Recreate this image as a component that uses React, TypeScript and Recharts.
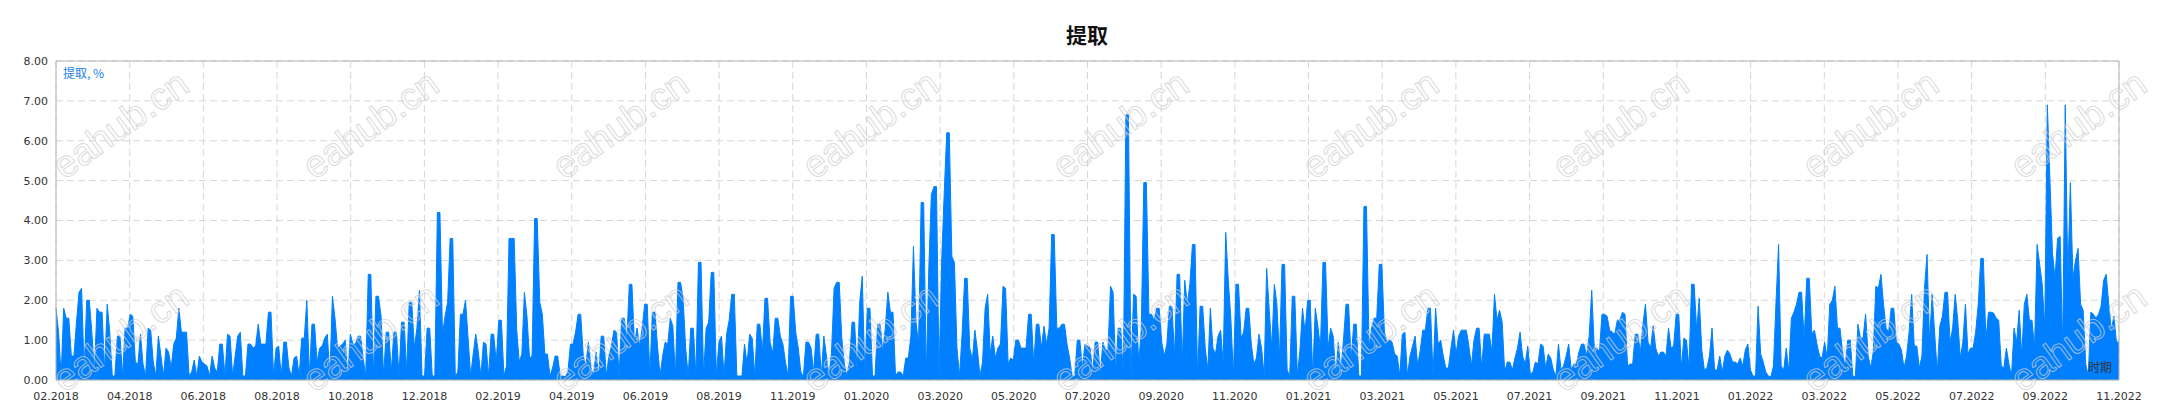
import { AreaChart, Area, XAxis, YAxis, CartesianGrid, ReferenceArea } from 'recharts';

// 提取 (%) left to right in nine stretches
const part1 = [
  1.8, 1.2, 0.1, 1.8, 1.55, 1.55, 0.6, 0.6, 1.45, 2.2, 2.3, 0.2, 2.0, 2.0, 1.2, 0.2, 1.8, 1.7, 1.7, 0.2,
  1.9, 1.2, 0.1, 0.1, 1.1, 1.1, 0.1, 1.3, 1.3, 1.65, 1.6, 0.45, 0.4, 1.15, 0.4, 0.1, 1.3, 1.25, 0.45, 0.1,
  1.1, 0.6, 0.1, 0.8, 0.7, 0.3, 0.9, 1.05, 1.8, 1.2, 1.2, 1.2, 0.1, 0.2, 0.5, 0.1, 0.6, 0.45, 0.4, 0.35,
  0.1, 0.6, 0.3, 0.2, 0.9, 0.9, 0.1, 1.15, 1.1, 0.1, 0.6, 1.1, 1.2, 0.1, 0.1, 0.9, 0.9, 0.8, 0.85, 1.4,
  0.9, 0.9, 0.9, 1.7, 1.7, 0.1, 0.8, 0.85, 0.1, 0.95,
];
const part2 = [
  0.95, 0.3, 0.1, 0.55, 0.6, 0.1, 1.05, 1.05, 2.0, 0.1, 1.4, 1.4, 0.45, 0.8, 0.85, 1.05, 1.15, 0.1, 2.1, 1.55,
  0.8, 0.85, 0.9, 1.0, 0.1, 1.15, 0.9, 0.9, 1.1, 1.1, 0.55, 0.1, 2.65, 2.65, 0.1, 2.1, 2.1, 1.6, 0.1, 1.2,
  1.2, 0.2, 1.2, 1.2, 0.1, 1.45, 1.45, 0.2, 1.95, 1.95, 0.8, 1.3, 2.25, 0.1, 0.1, 1.3, 1.3, 0.1, 0.1, 4.2,
  4.2, 1.15, 1.6, 1.95, 3.55, 3.55, 0.1, 0.2, 1.65, 1.65, 2.0, 1.05, 0.1, 0.65, 1.15, 0.7, 0.1, 0.95, 0.9, 0.1,
  1.15, 1.15, 0.45, 1.5, 1.5, 0.1, 0.35, 3.55, 3.55,
];
const part3 = [
  3.55, 1.25, 0.45, 0.65, 2.2, 1.6, 0.55, 0.6, 4.05, 4.05, 1.95, 1.65, 0.65, 0.65, 0.1, 0.3, 0.6, 0.6, 0.1, 0.1,
  0.08, 0.2, 0.9, 0.9, 1.2, 1.65, 1.65, 0.6, 0.35, 0.95, 0.3, 0.1, 0.7, 0.1, 1.1, 1.1, 0.1, 0.6, 0.85, 1.25,
  1.2, 0.1, 1.55, 1.55, 1.0, 2.4, 2.4, 0.9, 1.3, 0.85, 1.3, 1.9, 1.9, 0.1, 1.7, 1.7, 0.85, 0.1, 0.6, 0.95,
  0.9, 1.55, 1.35, 0.1, 2.45, 2.45, 2.05, 0.8, 0.1, 1.3, 1.3, 0.1, 2.95, 2.95, 0.1, 1.3, 1.45, 2.7, 2.7, 0.1,
  0.95, 1.1, 0.1, 1.15, 1.5, 2.15, 2.15, 0.1, 0.1,
];
const part4 = [
  0.1, 0.9, 0.4, 1.15, 1.05, 0.1, 1.4, 1.4, 0.7, 2.05, 2.05, 0.95, 0.65, 1.55, 1.55, 1.1, 0.9, 0.45, 0.1, 2.1,
  2.1, 1.2, 0.8, 0.2, 0.08, 0.95, 0.95, 0.8, 0.2, 1.15, 1.15, 0.1, 1.1, 0.6, 0.1, 0.7, 2.3, 2.45, 2.45, 1.05,
  0.4, 0.1, 0.45, 1.45, 1.45, 0.2, 1.95, 2.6, 0.1, 1.8, 1.8, 0.1, 0.1, 1.4, 1.4, 0.7, 1.3, 2.2, 1.7, 1.7,
  0.1, 0.2, 0.2, 0.1, 0.55, 0.55, 1.1, 3.35, 1.45, 0.9, 4.45, 4.45, 0.1, 2.8, 4.65, 4.85, 4.85, 0.1, 2.95, 4.65,
  6.2, 6.2, 3.1, 2.95, 0.8, 0.1, 1.15, 2.55, 2.55, 0.8,
];
const part5 = [
  0.5, 1.25, 0.75, 0.1, 0.45, 1.8, 2.15, 0.65, 1.1, 0.55, 0.8, 0.9, 2.35, 2.3, 0.4, 0.55, 0.5, 1.0, 1.0, 0.8,
  0.8, 0.8, 1.65, 1.65, 0.4, 1.4, 1.4, 0.8, 1.35, 0.9, 1.3, 3.65, 3.65, 1.3, 1.3, 1.4, 1.4, 0.9, 0.55, 0.1,
  0.08, 1.0, 1.0, 0.3, 0.9, 0.85, 0.8, 0.2, 0.95, 0.95, 0.1, 0.95, 0.75, 0.75, 2.35, 2.2, 0.2, 1.3, 1.3, 0.1,
  6.65, 6.65, 0.1, 2.15, 2.1, 0.4, 1.25, 4.95, 4.95, 1.65, 1.65, 1.5, 1.8, 1.8, 0.95, 0.6, 0.9, 1.85, 1.85, 0.6,
  2.65, 2.65, 0.4, 2.5, 1.9, 2.4, 3.4, 3.4, 0.1, 1.85, 1.85,
];
const part6 = [
  0.8, 0.25, 1.8, 0.8, 0.65, 1.1, 1.25, 0.4, 3.7, 2.5, 1.55, 0.1, 2.4, 2.4, 1.05, 1.2, 1.8, 1.8, 0.9, 0.4,
  0.55, 1.15, 0.8, 0.1, 2.8, 1.75, 0.8, 2.4, 1.9, 0.55, 2.9, 2.9, 0.25, 0.1, 2.1, 2.1, 0.1, 0.75, 1.8, 1.2,
  2.0, 2.0, 0.1, 1.8, 1.35, 0.8, 2.95, 2.95, 0.8, 1.3, 1.1, 0.1, 0.95, 0.2, 1.0, 1.9, 1.9, 0.5, 1.4, 1.4,
  0.1, 0.1, 4.35, 4.35, 0.8, 1.3, 1.55, 1.55, 2.9, 2.9, 1.2, 0.95, 1.0, 0.95, 0.65, 0.6, 0.1, 1.15, 1.2, 0.1,
  0.6, 0.85, 1.1, 0.35, 0.75, 1.25, 1.25, 1.8, 1.8, 0.1,
];
const part7 = [
  1.8, 0.9, 1.0, 0.6, 0.3, 0.3, 0.8, 1.25, 0.65, 1.1, 1.25, 1.25, 1.25, 0.85, 0.35, 1.0, 1.3, 1.3, 0.3, 1.15,
  1.15, 1.15, 0.7, 2.15, 1.5, 1.75, 1.45, 0.2, 0.45, 0.45, 0.25, 0.55, 0.8, 1.2, 0.6, 0.4, 0.85, 0.15, 0.2, 0.45,
  0.4, 0.9, 0.85, 0.3, 0.65, 0.55, 0.25, 0.1, 0.9, 0.25, 0.35, 0.6, 0.9, 0.25, 0.4, 0.4, 0.7, 0.9, 0.9, 0.6,
  1.1, 2.25, 0.8, 0.8, 0.7, 1.65, 1.65, 1.6, 1.25, 1.2, 1.15, 1.5, 1.5, 1.7, 1.65, 0.35, 0.4, 0.4, 1.15, 1.15,
  0.7, 1.4, 1.9, 0.95, 0.8, 1.35, 0.8, 0.6, 0.7, 0.7,
];
const part8 = [
  0.6, 1.3, 0.8, 0.85, 1.65, 1.65, 0.3, 1.05, 1.0, 0.3, 2.4, 2.4, 1.25, 2.05, 0.75, 0.25, 0.3, 0.6, 1.3, 0.25,
  0.25, 0.6, 0.2, 0.6, 0.75, 0.65, 0.45, 0.45, 0.4, 0.55, 0.35, 0.75, 0.9, 0.25, 0.1, 0.1, 1.85, 0.65, 0.45, 0.2,
  0.1, 0.08, 0.35, 1.95, 3.4, 0.35, 0.25, 0.8, 0.2, 1.55, 1.7, 1.9, 2.2, 2.2, 1.0, 2.55, 2.55, 1.15, 1.25, 0.9,
  0.6, 0.55, 0.95, 0.55, 1.9, 2.0, 2.35, 1.3, 1.3, 0.7, 0.3, 1.0, 1.0, 0.1, 0.08, 1.4, 1.05, 1.05, 1.65, 0.6,
  0.3, 0.7, 2.35, 2.3, 2.65, 1.9, 1.3, 1.2, 1.8, 1.8,
];
const part9 = [
  0.95, 0.9, 0.75, 0.3, 0.6, 1.2, 2.15, 0.85, 0.85, 0.3, 0.6, 2.3, 3.15, 0.95, 2.15, 1.15, 0.2, 1.35, 1.6, 2.2,
  2.2, 0.95, 1.3, 2.15, 1.5, 0.55, 0.95, 1.9, 0.65, 0.8, 0.8, 1.2, 1.9, 3.05, 3.05, 1.0, 1.7, 1.7, 1.68, 1.55,
  1.5, 0.35, 0.3, 0.8, 0.4, 0.1, 1.3, 0.95, 1.75, 0.6, 1.9, 2.15, 1.5, 1.5, 0.8, 3.4, 2.9, 2.4, 1.3, 6.9,
  5.05, 3.2, 2.55, 3.55, 3.6, 0.75, 6.9, 2.55, 4.95, 2.55, 3.0, 3.3, 1.9, 1.75, 0.4, 0.1, 1.7, 1.65, 1.55, 1.65,
  1.85, 2.5, 2.65, 1.9, 1.25, 1.6, 0.95, 0.95,
];

const periodLabels = [
  '02.2018', '04.2018', '06.2018', '08.2018', '10.2018', '12.2018', '02.2019', '04.2019', '06.2019', '08.2019',
  '11.2019', '01.2020', '03.2020', '05.2020', '07.2020', '09.2020', '11.2020', '01.2021', '03.2021', '05.2021',
  '07.2021', '09.2021', '11.2021', '01.2022', '03.2022', '05.2022', '07.2022', '09.2022', '11.2022',
];
const yTicks = [0, 1, 2, 3, 4, 5, 6, 7, 8];

const values = [...part1, ...part2, ...part3, ...part4, ...part5, ...part6, ...part7, ...part8, ...part9];
const data = values.map((v, i) => ({ i, v }));
const last = values.length - 1;
const xTicks = periodLabels.map((_, k) => (k * last) / (periodLabels.length - 1));

const W = 2158;
const H = 419;
const font = '"DejaVu Sans", Verdana, sans-serif';
const cjk = '"Noto Sans CJK SC", "DejaVu Sans", sans-serif';

// faint site watermark, two rows, kept inside the picture
function Watermarks() {
  const marks = [];
  for (let k = 0; k < 9; k++) {
    const x = Math.min(122 + k * 250, 2080);
    for (const y of [127, 340]) {
      marks.push(
        <text
          key={k + '-' + y}
          x={x}
          y={y}
          textAnchor="middle"
          dominantBaseline="middle"
          transform={`rotate(-35.5 ${x} ${y})`}
          fontFamily='"Liberation Sans", Arial, sans-serif'
          fontSize={38}
          fill="none"
          stroke="#cfcfcf"
          strokeWidth={1}
          opacity={0.75}
        >
          eahub.cn
        </text>
      );
    }
  }
  return <>{marks}</>;
}

export default function App() {
  return (
    <div style={{ position: 'absolute', left: 0, top: 0, width: W, height: H, background: '#fff' }}>
      <AreaChart width={W} height={H} data={data} margin={{ top: 61, right: 39, bottom: 9, left: 6 }}>
        <CartesianGrid stroke="#d6d6d6" strokeDasharray="7 4" />
        <XAxis
          dataKey="i"
          type="number"
          domain={[0, last]}
          ticks={xTicks}
          interval={0}
          height={30}
          tickLine={false}
          tickMargin={6}
          axisLine={false}
          tickFormatter={(_v, idx) => periodLabels[idx]}
          tick={{ fill: '#333', fontSize: 11, fontFamily: font }}
        />
        <YAxis
          domain={[0, 8]}
          ticks={yTicks}
          interval={0}
          width={50}
          tickLine={false}
          axisLine={false}
          tickFormatter={(v) => Number(v).toFixed(2)}
          tick={{ fill: '#333', fontSize: 11, fontFamily: font }}
        />
        <Area
          type="linear"
          dataKey="v"
          stroke="#0080ff"
          strokeWidth={1}
          fill="#0080ff"
          fillOpacity={1}
          dot={false}
          activeDot={false}
          isAnimationActive={false}
        />
        <ReferenceArea x1={0} x2={last} y1={0} y2={8} fill="none" fillOpacity={0} stroke="#b4b4b4" strokeWidth={1} ifOverflow="visible" />
      </AreaChart>
      <svg width={W} height={H} style={{ position: 'absolute', left: 0, top: 0, pointerEvents: 'none' }}>
        <text x={1087} y={37} textAnchor="middle" dominantBaseline="middle" fontFamily={cjk} fontWeight="bold" fontSize={21} fill="#111">
          提取
        </text>
        <text x={63} y={75} dominantBaseline="middle" fontFamily={cjk} fontSize={12} fill="#1a7fe6">
          提取, %
        </text>
        <text x={2112} y={369} textAnchor="end" dominantBaseline="middle" fontFamily={cjk} fontSize={12} fill="#333">
          时期
        </text>
        <Watermarks />
      </svg>
    </div>
  );
}
